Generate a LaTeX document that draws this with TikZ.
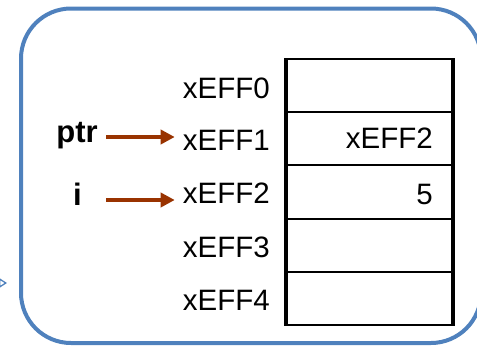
\documentclass[tikz,border=0pt]{standalone}
\usepackage{fontspec}
\setmainfont{Liberation Sans}
\usetikzlibrary{arrows.meta}
\definecolor{frameblue}{RGB}{79,129,189}
\definecolor{ptrbrown}{RGB}{153,51,0}
\tikzset{
  frame/.style={draw=frameblue, line width=4pt, rounded corners=50pt},
  cell/.style={draw=black, line width=2pt, minimum width=165pt, minimum height=53.2pt, inner sep=0pt},
  addr/.style={font=\fontsize{29.5}{31}\selectfont, inner sep=0pt, anchor=base east},
  val/.style={font=\fontsize{29.5}{31}\selectfont, inner sep=0pt, anchor=base east},
  var/.style={font=\fontsize{31}{33}\selectfont\bfseries, inner sep=0pt, anchor=base east},
  ptrarrow/.style={draw=ptrbrown, line width=3.5pt, -{Triangle[length=14pt,width=14pt]}, shorten <=8pt, shorten >=8pt},
  sidearrow/.style={draw=frameblue, line width=1.3pt, -{Triangle[open,length=8pt,width=10pt]}}
}
\begin{document}
\begin{tikzpicture}[x=1pt,y=-1pt]
\useasboundingbox (0,0) rectangle (477,346);
\clip (0,0) rectangle (477,346);

% outer frame
\draw[frame] (21,8.5) rectangle (481,343);

% incoming connector from the left
\coordinate (inA) at (-40,283);
\coordinate (inB) at (7,283);
\draw[sidearrow] (inA) -- (inB);

% memory cells
\foreach \k in {0,...,4}{
  \node[cell] (c\k) at (369.5,{85.6+53.2*\k}) {};
}
\draw[line width=4pt] (c0.north west) -- (c4.south west);
\draw[line width=4pt] (c0.north east) -- (c4.south east);

% addresses
\node[addr] (a0) at (270,98)  {xEFF0};
\node[addr] (a1) at (270,150) {xEFF1};
\node[addr] (a2) at (270,203) {xEFF2};
\node[addr] (a3) at (270,257) {xEFF3};
\node[addr] (a4) at (270,310) {xEFF4};

% contents
\node[val] (v1) at (433,148) {xEFF2};
\node[val] (v2) at (433,204) {5};

% variables
\node[var] (ptr) at (98,142) {ptr};
\node[var] (i)   at (82,205) {i};

\coordinate (r1) at (0,137);
\coordinate (r2) at (0,200);
\draw[ptrarrow] (ptr.east |- r1) -- (a1.west |- r1);
\draw[ptrarrow] ([xshift=16pt]i.east |- r2) -- (a2.west |- r2);
\end{tikzpicture}
\end{document}
